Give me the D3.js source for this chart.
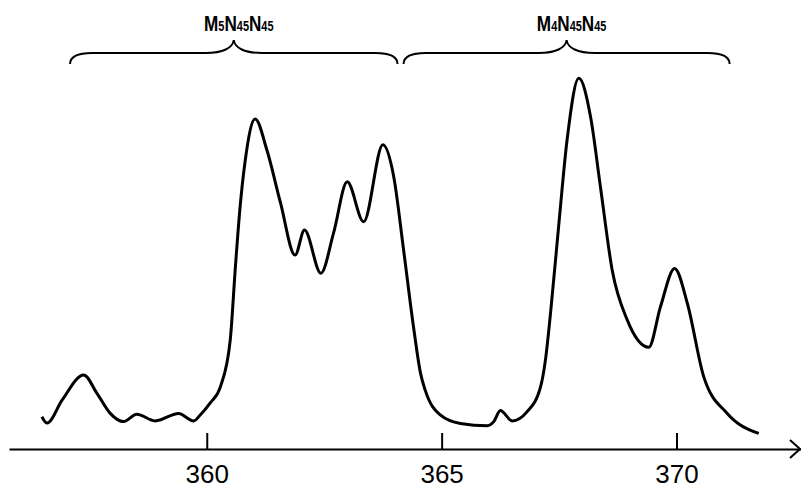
<!DOCTYPE html>
<html>
<head>
<meta charset="utf-8">
<script src="https://cdn.jsdelivr.net/npm/d3@7"></script>
<style>
  body { margin: 0; background: #fff; }
</style>
</head>
<body>
<div id="visualContainer"></div>
<script>
// energy (eV) and intensity
var energy = [356.49, 356.60, 356.92, 357.38, 357.66, 357.94, 358.23, 358.51, 358.90, 359.40,
  359.72, 359.86, 360.07, 360.29, 360.50, 360.61, 360.71, 360.82, 361.03, 361.28,
  361.57, 361.88, 362.08, 362.43, 362.70, 362.99, 363.34, 363.75, 363.98, 364.19,
  364.40, 364.55, 364.65, 364.97, 365.40, 365.97, 366.11, 366.25, 366.50, 366.82,
  367.10, 367.21, 367.32, 367.49, 367.67, 367.92, 368.17, 368.38, 368.63, 368.95,
  369.41, 369.66, 369.96, 370.23, 370.58, 371.08, 371.75];
var intensity = [8.7, 7.0, 13.2, 20.0, 15.1, 9.7, 7.4, 9.4, 7.6, 9.6,
  7.6, 9.2, 12.4, 16.8, 29.5, 49.3, 65.5, 78.1, 89.2, 80.8,
  66.5, 52.4, 59.2, 47.5, 58.4, 72.2, 61.4, 82.2, 73.6, 53.8,
  33.1, 20.5, 15.9, 9.2, 6.9, 6.3, 7.4, 10.4, 7.6, 10.1,
  16.5, 24.1, 37.0, 60.1, 83.5, 100.2, 89.8, 70.9, 48.4, 34.9,
  27.5, 38.5, 48.8, 39.4, 19.5, 9.6, 4.2];

var tickValues = [360, 365, 370];

// transition groups shown with braces
var groupMain = ["M", "M"];
var groupSub = ["5", "4"];
var braceStart = [357.09, 364.19];
var braceEnd = [364.06, 371.13];

var width = 801, height = 488;
var axisY = 449;

var svgCanvas = d3.select("#visualContainer")
  .append("svg")
  .attr("width", width)
  .attr("height", height);

var x = d3.scaleLinear().domain([355.79, 372.65]).range([9, 801]);
var y = d3.scaleLinear().domain([0, 100]).range([axisY, 79]);

var points = energy.map(function(e, i) { return [e, intensity[i]]; });

// axis with upward ticks
var xAxis = d3.axisBottom(x)
  .tickValues(tickValues)
  .tickSizeInner(-16)
  .tickSizeOuter(0)
  .tickPadding(16)
  .tickFormat(d3.format("d"));

var axisG = svgCanvas.append("g")
  .attr("transform", "translate(0," + axisY + ")")
  .call(xAxis)
  .attr("font-family", "'Liberation Sans', Arial, sans-serif")
  .attr("font-size", 26);
axisG.select(".domain").attr("stroke", "#000").attr("stroke-width", 2);
axisG.selectAll(".tick line").attr("stroke", "#000").attr("stroke-width", 2);
axisG.selectAll(".tick text").attr("fill", "#000");

// open arrow head at the end of the axis
svgCanvas.append("path")
  .attr("d", "M" + (x.range()[1] - 11) + "," + (axisY - 9) + "L" + (x.range()[1] - 1) + "," + axisY +
    "L" + (x.range()[1] - 11) + "," + (axisY + 9))
  .attr("fill", "none")
  .attr("stroke", "#000")
  .attr("stroke-width", 2);

// spectrum
var line = d3.line()
  .x(function(d) { return x(d[0]); })
  .y(function(d) { return y(d[1]); })
  .curve(d3.curveMonotoneX);

svgCanvas.append("path")
  .datum(points)
  .attr("d", line)
  .attr("fill", "none")
  .attr("stroke", "#000")
  .attr("stroke-width", 3)
  .attr("stroke-linejoin", "round");

// braces
function bracePath(x0, x1) {
  var mid = (x0 + x1) / 2, yEnd = 64, yFlat = 53, yTip = 40;
  return "M" + x0 + "," + yEnd +
    "C" + x0 + "," + (yFlat + 3) + " " + (x0 + 8) + "," + yFlat + " " + (x0 + 22) + "," + yFlat +
    "L" + (mid - 28) + "," + yFlat +
    "C" + (mid - 11) + "," + yFlat + " " + (mid - 1) + "," + (yFlat - 5) + " " + mid + "," + yTip +
    "C" + (mid + 1) + "," + (yFlat - 5) + " " + (mid + 11) + "," + yFlat + " " + (mid + 28) + "," + yFlat +
    "L" + (x1 - 22) + "," + yFlat +
    "C" + (x1 - 8) + "," + yFlat + " " + x1 + "," + (yFlat + 3) + " " + x1 + "," + yEnd;
}

svgCanvas.selectAll("path.brace")
  .data(braceStart)
  .enter()
    .append("path")
      .attr("class", "brace")
      .attr("d", function(d, i) { return bracePath(x(d), x(braceEnd[i])); })
      .attr("fill", "none")
      .attr("stroke", "#000")
      .attr("stroke-width", 2);

// condensed bold labels: squeeze horizontally
var labels = svgCanvas.selectAll("text.group")
  .data(groupMain)
  .enter()
    .append("text")
      .attr("class", "group")
      .attr("transform", function(d, i) {
        var cx = (x(braceStart[i]) + x(braceEnd[i])) / 2 + 5;
        return "translate(" + cx + ",31) scale(0.78,1)";
      })
      .attr("text-anchor", "middle")
      .attr("font-family", "'Liberation Sans', Arial, sans-serif")
      .attr("font-weight", "bold")
      .attr("font-size", 22)
      .attr("fill", "#000");

labels.each(function(d, i) {
  var t = d3.select(this);
  t.append("tspan").text(d);
  t.append("tspan").attr("font-size", 14).text(groupSub[i]);
  t.append("tspan").text("N");
  t.append("tspan").attr("font-size", 14).text("45");
  t.append("tspan").text("N");
  t.append("tspan").attr("font-size", 14).text("45");
});
</script>
</body>
</html>
